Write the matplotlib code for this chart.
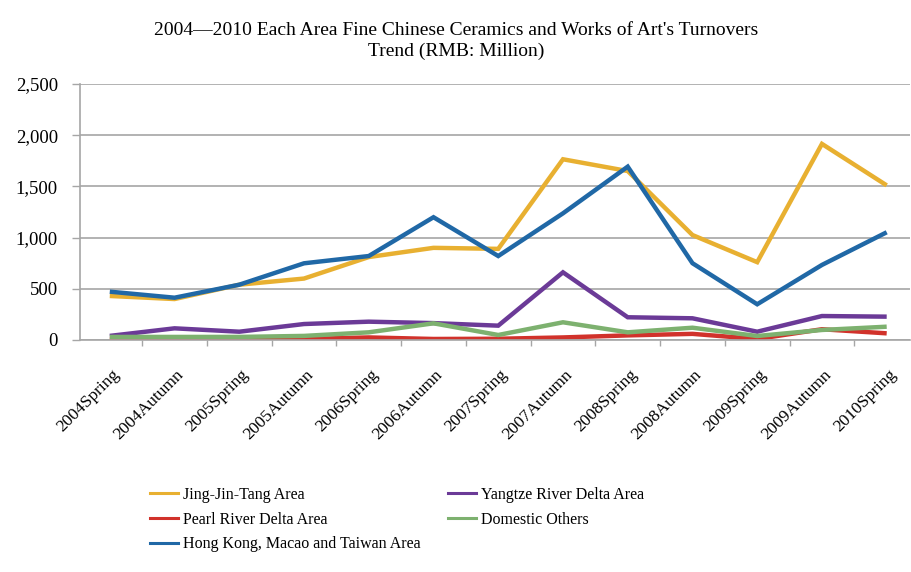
import matplotlib.pyplot as plt
from matplotlib.lines import Line2D
from matplotlib.ticker import FuncFormatter, FixedLocator
from matplotlib.transforms import ScaledTranslation

plt.rcParams['font.family'] = ['Liberation Serif', 'DejaVu Serif']

periods = ['2004Spring', '2004Autumn', '2005Spring', '2005Autumn', '2006Spring',
           '2006Autumn', '2007Spring', '2007Autumn', '2008Spring', '2008Autumn',
           '2009Spring', '2009Autumn', '2010Spring']

jing_jin_tang = [430, 400, 540, 600, 810, 900, 890, 1765, 1650, 1025, 760, 1915, 1510]
yangtze_delta = [40, 114, 81, 156, 179, 165, 140, 661, 222, 212, 81, 234, 228]
pearl_delta = [5, 5, 8, 10, 25, 10, 12, 25, 45, 60, 10, 105, 65]
domestic_others = [30, 30, 30, 40, 75, 163, 49, 173, 75, 120, 39, 98, 130]
hk_macao_taiwan = [472, 413, 540, 749, 820, 1199, 820, 1237, 1693, 750, 349, 733, 1052]

series = [
    ('Jing-Jin-Tang Area', jing_jin_tang, '#E8B031'),
    ('Yangtze River Delta Area', yangtze_delta, '#6B3A97'),
    ('Pearl River Delta Area', pearl_delta, '#D1322B'),
    ('Domestic Others', domestic_others, '#7DB16F'),
    ('Hong Kong, Macao and Taiwan Area', hk_macao_taiwan, '#2068A6'),
]

fig = plt.figure(figsize=(9.12, 5.72), dpi=100)
ax = fig.add_axes([80 / 912, 1 - 340 / 572, 830 / 912, 256 / 572])

x = list(range(len(periods)))
handles = {}
for name, vals, col in series:
    ln, = ax.plot(x, vals, color=col, linewidth=3.2, solid_joinstyle='miter',
                  solid_capstyle='butt')
    handles[name] = ln

ax.set_ylim(0, 2500)
ax.set_xlim(-0.46, 12.36)
ax.yaxis.set_major_locator(FixedLocator([0, 500, 1000, 1500, 2000, 2500]))
ax.yaxis.set_major_formatter(FuncFormatter(lambda v, p: f'{int(v):,}'))
ax.grid(axis='y', color='#A6A6A6', linewidth=1.2)
ax.set_axisbelow(True)

ax.set_xticks(x)
ax.set_xticklabels(periods, rotation=45, ha='right', rotation_mode='anchor',
                   fontsize=12.5)
ax.tick_params(axis='x', which='major', length=0, pad=19)
# nudge the slanted labels slightly right of their category
shift = ScaledTranslation(1 / 72, 0, fig.dpi_scale_trans)
for lbl in ax.get_xticklabels():
    lbl.set_transform(lbl.get_transform() + shift)
ax.set_xticks([i + 0.5 for i in range(len(periods) - 1)], minor=True)
ax.tick_params(axis='x', which='minor', length=4, color='#A6A6A6', width=1)
ax.tick_params(axis='y', length=6, color='#A6A6A6', width=1, labelsize=13.5, pad=10)

for side in ('top', 'right'):
    ax.spines[side].set_visible(False)
for side in ('left', 'bottom'):
    ax.spines[side].set_color('#A6A6A6')
    ax.spines[side].set_linewidth(1.2)

fig.text(0.5, 0.947, "2004\u20142010 Each Area Fine Chinese Ceramics and Works of Art's Turnovers",
         ha='center', va='center', fontsize=14)
fig.text(0.5, 0.91, 'Trend (RMB: Million)', ha='center', va='center', fontsize=14)

order = ['Jing-Jin-Tang Area', 'Pearl River Delta Area', 'Hong Kong, Macao and Taiwan Area',
         'Yangtze River Delta Area', 'Domestic Others']
leg_handles = [Line2D([], [], color=handles[n].get_color(), linewidth=2.2) for n in order]
fig.legend(leg_handles, order, ncol=2, loc='upper left', bbox_to_anchor=(0.157, 0.16),
           frameon=False, fontsize=11.5, handlelength=1.75, handletextpad=0.35,
           columnspacing=1.7, labelspacing=0.55, borderaxespad=0)

fig.savefig('out.png', dpi=100)
